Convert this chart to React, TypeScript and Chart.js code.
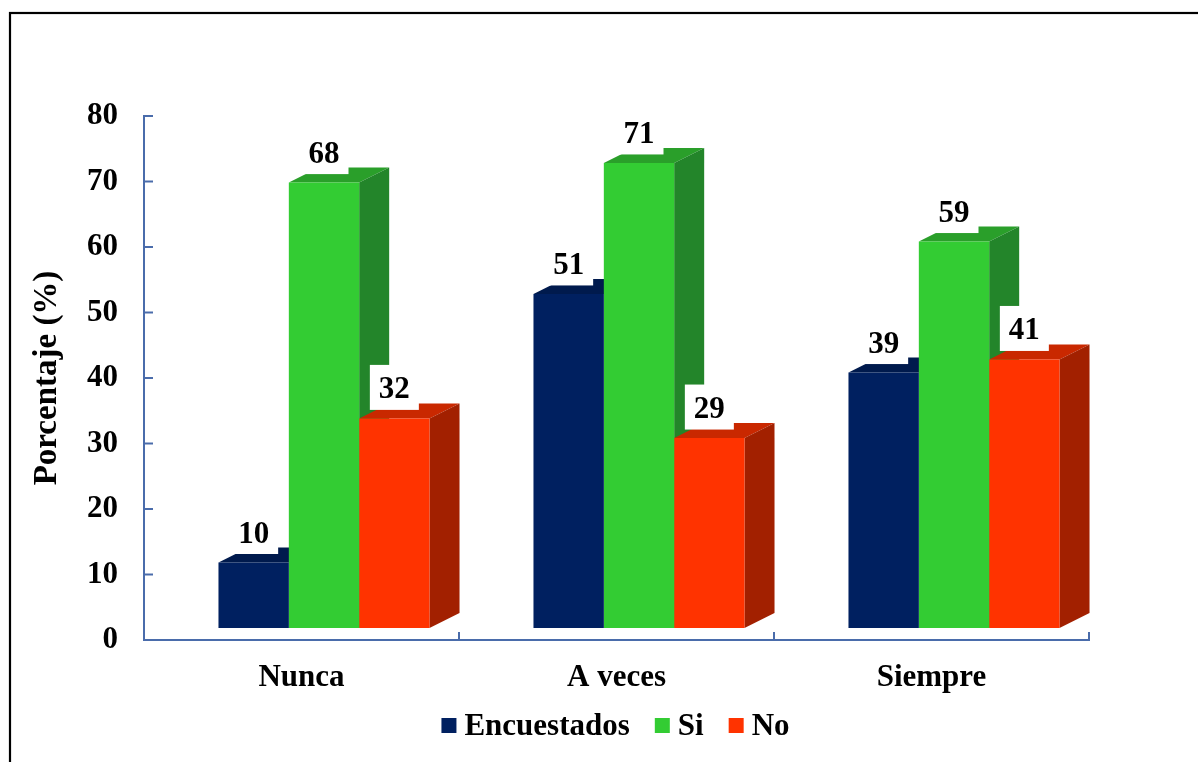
import { useEffect, useRef } from "react";
import { Chart, registerables } from "chart.js";

Chart.register(...registerables);

// Categories, series and values
const categories = ["Nunca", "A veces", "Siempre"];
const seriesNames = ["Encuestados", "Si", "No"];
const encuestados = [10, 51, 39];
const si = [68, 71, 59];
const no = [32, 29, 41];
const yTickValues = [0, 10, 20, 30, 40, 50, 60, 70, 80];
const yTitle = "Porcentaje (%)";

// Face colours for the extruded bars: front, top, side
const frontColors = ["#002060", "#33cc33", "#ff3300"];
const topColors = ["#001a4d", "#2a9f2a", "#c92800"];
const sideColors = ["#00163f", "#23852a", "#a22000"];

const FONT = "'Times New Roman', 'Liberation Serif', serif";
const AXIS_COLOR = "#4a6cab";

// Extrusion depth and the shift of the bar block inside the floor
const DEPTH_X = 30;
const DEPTH_Y = 15;
const SHIFT_X = 22.5;
const SHIFT_Y = -12;

function barGeom(chart: any, d: number, i: number) {
  const el = chart.getDatasetMeta(d).data[i];
  const p = el.getProps(["x", "y", "base", "width"], true);
  return {
    l: p.x - p.width / 2,
    r: p.x + p.width / 2,
    x: p.x,
    y: p.y,
    base: p.base,
  };
}

const bar3d = {
  id: "bar3d",
  beforeDraw(chart: any) {
    const ctx = chart.ctx;
    ctx.save();
    ctx.fillStyle = "#ffffff";
    ctx.fillRect(0, 0, chart.width, chart.height);
    ctx.strokeStyle = "#000000";
    ctx.lineWidth = 2.2;
    ctx.strokeRect(10, 13, chart.width + 40, chart.height + 40);
    ctx.restore();
  },
  beforeDatasetsDraw(chart: any) {
    const ctx = chart.ctx;
    ctx.save();
    ctx.translate(SHIFT_X, SHIFT_Y);
    const n = chart.data.labels.length;
    const m = chart.data.datasets.length;
    for (let i = 0; i < n; i++) {
      for (let d = 0; d < m; d++) {
        const g = barGeom(chart, d, i);
        // top face
        ctx.fillStyle = topColors[d];
        ctx.beginPath();
        ctx.moveTo(g.l, g.y);
        ctx.lineTo(g.l + DEPTH_X, g.y - DEPTH_Y);
        ctx.lineTo(g.r + DEPTH_X, g.y - DEPTH_Y);
        ctx.lineTo(g.r, g.y);
        ctx.closePath();
        ctx.fill();
        // side face
        ctx.fillStyle = sideColors[d];
        ctx.beginPath();
        ctx.moveTo(g.r, g.y);
        ctx.lineTo(g.r + DEPTH_X, g.y - DEPTH_Y);
        ctx.lineTo(g.r + DEPTH_X, g.base - DEPTH_Y);
        ctx.lineTo(g.r, g.base);
        ctx.closePath();
        ctx.fill();
      }
    }
  },
  afterDatasetsDraw(chart: any) {
    const ctx = chart.ctx;
    ctx.restore();
    // value labels on white boxes
    ctx.save();
    ctx.font = `bold 31px ${FONT}`;
    ctx.textAlign = "center";
    ctx.textBaseline = "alphabetic";
    const n = chart.data.labels.length;
    chart.data.datasets.forEach((ds: any, d: number) => {
      for (let i = 0; i < n; i++) {
        const g = barGeom(chart, d, i);
        const cx = g.x + SHIFT_X;
        const top = g.y + SHIFT_Y;
        ctx.fillStyle = "#ffffff";
        ctx.fillRect(cx - 24.5, top - 8.5 - 45, 49, 45);
        ctx.fillStyle = "#000000";
        ctx.fillText(String(ds.data[i]), cx, top - 20);
      }
    });
    ctx.restore();
  },
  afterDraw(chart: any) {
    const ctx = chart.ctx;
    const area = chart.chartArea;
    const yScale = chart.scales.y;
    ctx.save();
    ctx.strokeStyle = AXIS_COLOR;
    ctx.lineWidth = 2;
    ctx.lineCap = "square";
    // value axis with inward ticks
    ctx.beginPath();
    ctx.moveTo(area.left, area.top);
    ctx.lineTo(area.left, area.bottom);
    ctx.lineTo(area.right, area.bottom);
    ctx.stroke();
    ctx.lineCap = "butt";
    yTickValues.forEach((v) => {
      const py = yScale.getPixelForValue(v);
      ctx.beginPath();
      ctx.moveTo(area.left, py);
      ctx.lineTo(area.left + 9, py);
      ctx.stroke();
    });
    // category boundaries on the floor axis
    const n = chart.data.labels.length;
    const w = (area.right - area.left) / n;
    for (let k = 1; k <= n; k++) {
      const px = area.left + k * w;
      ctx.beginPath();
      ctx.moveTo(px, area.bottom);
      ctx.lineTo(px, area.bottom - 8);
      ctx.stroke();
    }

    // legend
    ctx.font = `bold 31px ${FONT}`;
    ctx.textAlign = "left";
    ctx.textBaseline = "alphabetic";
    const box = 15;
    const gap = 8;
    const spacing = 25;
    const widths = seriesNames.map((s) => ctx.measureText(s).width);
    const total =
      widths.reduce((a, b) => a + b + box + gap, 0) + spacing * (seriesNames.length - 1);
    let x = (area.left + area.right) / 2 - total / 2 - 1;
    const baseline = 735;
    seriesNames.forEach((s, d) => {
      ctx.fillStyle = frontColors[d];
      ctx.fillRect(x, 718, box, box);
      ctx.fillStyle = "#000000";
      ctx.fillText(s, x + box + gap, baseline);
      x += box + gap + widths[d] + spacing;
    });
    ctx.restore();
  },
};

export default function App() {
  const canvasRef = useRef<HTMLCanvasElement | null>(null);

  useEffect(() => {
    const canvas = canvasRef.current;
    if (!canvas) return;
    const series = [encuestados, si, no];
    const tickFont = { family: FONT, size: 31, weight: "bold" as const };
    const chart = new Chart(canvas, {
      type: "bar",
      data: {
        labels: categories,
        datasets: series.map((values, d) => ({
          label: seriesNames[d],
          data: values,
          backgroundColor: frontColors[d],
          borderWidth: 0,
          categoryPercentage: 0.67,
          barPercentage: 1,
          clip: false as any,
        })),
      },
      options: {
        animation: false,
        responsive: true,
        maintainAspectRatio: false,
        layout: { padding: { left: 0, top: 116, right: 109, bottom: 0 } },
        plugins: {
          legend: { display: false },
          tooltip: { enabled: false },
        },
        scales: {
          x: {
            grid: { display: false, drawTicks: false },
            border: { display: false },
            ticks: { color: "#000000", font: tickFont, padding: 19 },
            afterFit: (s: any) => {
              s.height = 122;
            },
          },
          y: {
            min: 0,
            max: 80,
            grid: { display: false, drawTicks: false },
            border: { display: false },
            ticks: { color: "#000000", font: tickFont, padding: 26 },
            afterBuildTicks: (s: any) => {
              s.ticks = yTickValues.map((v) => ({ value: v }));
            },
            title: {
              display: true,
              text: yTitle,
              color: "#000000",
              font: { family: FONT, size: 33, weight: "bold" },
              padding: { top: 28, bottom: 0 },
            },
            afterFit: (s: any) => {
              s.width = 144;
            },
          },
        },
      },
      plugins: [bar3d],
    });
    return () => chart.destroy();
  }, []);

  return (
    <div style={{ position: "fixed", left: 0, top: 0, width: 1198, height: 762, background: "#fff" }}>
      <canvas ref={canvasRef} />
    </div>
  );
}
